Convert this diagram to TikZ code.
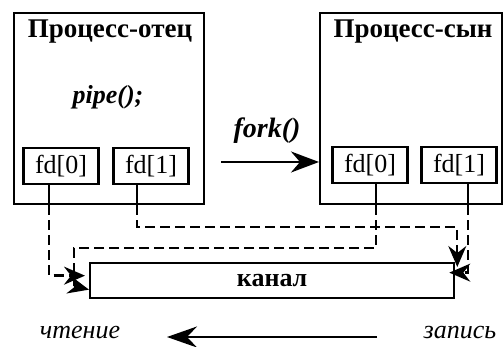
\documentclass[tikz,border=0pt]{standalone}
\usepackage{fontspec}
\setmainfont{Liberation Serif}
\usetikzlibrary{arrows.meta,positioning}

\begin{document}
\begin{tikzpicture}[x=1pt,y=-1pt,line width=2.3pt,
    >={Stealth[length=21pt,width=18pt,inset=7pt]},
    proc/.style={draw,anchor=north west,inner sep=0pt,minimum height=191pt},
    fdbox/.style={draw,inner sep=0pt,minimum width=75pt,minimum height=36pt,font=\fontsize{26}{28}\selectfont},
    title/.style={font=\fontsize{27}{29}\selectfont\bfseries},
    call/.style={font=\fontsize{26}{28}\selectfont\bfseries\itshape},
    note/.style={font=\fontsize{26}{28}\selectfont\itshape},
    link/.style={dash pattern=on 10pt off 5pt}]

    \useasboundingbox (0,0) rectangle (504,347);

    % processes
    \node[proc,minimum width=190pt] (father) at (13,12) {};
    \node[proc,minimum width=182pt] (son) at (319,12) {};
    \node[title] (ftitle) at (110,32) {Процесс-отец};
    \node[call] (pipecall) at (108,97) {pipe();};
    \node[title] (stitle) at (413,32) {Процесс-сын};

    % descriptors
    \node[fdbox] (f0) at (61,166) {fd[0]};
    \node[fdbox] (f1) at (151,166) {fd[1]};
    \node[fdbox] (s0) at (370,165) {fd[0]};
    \node[fdbox] (s1) at (459,165) {fd[1]};

    % the pipe itself
    \node[draw,anchor=north west,inner sep=0pt,minimum width=364pt,minimum height=35pt,
          font=\fontsize{26}{28}\selectfont\bfseries] (chan) at (89,262) {канал};

    % fork
    \node[call,font=\fontsize{28}{30}\selectfont\bfseries\itshape] (forklabel) at (267,131) {fork()};
    \coordinate (forkstart) at (221,162);
    \draw[->,>={Stealth[length=28pt,width=21pt,inset=9pt]}] (forkstart) -- (forkstart -| son.west);

    % read / write
    \node[note] (read) at (80,333) {чтение};
    \node[note] (write) at (460,333) {запись};
    \draw[->,>={Stealth[length=30pt,width=21pt,inset=10pt]}] (377,337) -- (167,337);

    % father fd[0] -> read end
    \draw ([xshift=-12pt]f0.south) -- ([xshift=-12pt]f0.south |- father.south);
    \draw[link,->] ([xshift=-12pt]f0.south |- father.south) |- ([xshift=-4pt,yshift=5pt]chan.west);

    % son fd[0] -> read end
    \draw ([xshift=6pt]s0.south) -- ([xshift=6pt]s0.south |- son.south);
    \draw[link] ([xshift=6pt]s0.south |- son.south) -- ++(0,43) -| (74,286);
    \draw[->] (74,286) -- ([yshift=-9pt]chan.west);

    % father fd[1] -> write end
    \draw ([xshift=-14pt]f1.south) -- ([xshift=-14pt]f1.south |- father.south);
    \draw[link,->] ([xshift=-14pt]f1.south |- father.south) -- ++(0,22) -| ([xshift=2pt,yshift=-5pt]chan.north east);

    % son fd[1] -> write end
    \draw ([xshift=9pt]s1.south) -- ([xshift=9pt]s1.south |- son.south);
    \draw[link,->] ([xshift=9pt]s1.south |- son.south) |- ([xshift=-6pt,yshift=8pt]chan.east);
\end{tikzpicture}
\end{document}
